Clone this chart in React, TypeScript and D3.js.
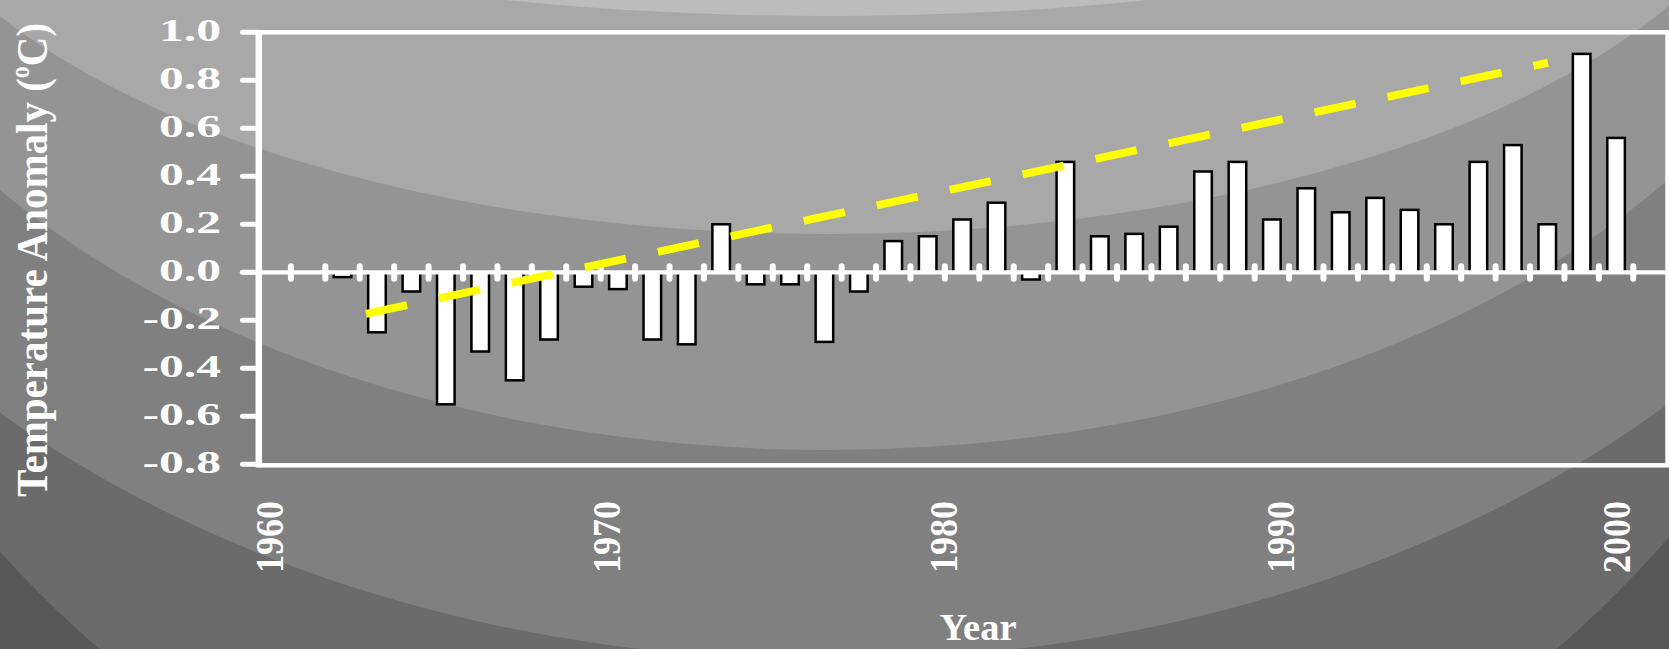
import * as d3 from 'd3';

// yearly anomaly bars (ºC)
const barYears = [
  1962, 1963, 1964, 1965, 1966, 1967, 1968, 1969, 1970, 1971, 1972, 1973, 1974,
  1975, 1976, 1977, 1978, 1979, 1980, 1981, 1982, 1983, 1984, 1985, 1986, 1987,
  1988, 1989, 1990, 1991, 1992, 1993, 1994, 1995, 1996, 1997, 1998, 1999,
];
const anomalies = [
  -0.02, -0.25, -0.08, -0.55, -0.33, -0.45, -0.28, -0.06, -0.07, -0.28, -0.3, 0.2, -0.05,
  -0.05, -0.29, -0.08, 0.13, 0.15, 0.22, 0.29, -0.03, 0.46, 0.15, 0.16, 0.19, 0.42,
  0.46, 0.22, 0.35, 0.25, 0.31, 0.26, 0.2, 0.46, 0.53, 0.2, 0.91, 0.56,
];

const yTicks = [1.0, 0.8, 0.6, 0.4, 0.2, 0.0, -0.2, -0.4, -0.6, -0.8];
const yTickLabels = ['1.0', '0.8', '0.6', '0.4', '0.2', '0.0', '-0.2', '-0.4', '-0.6', '-0.8'];
const xTickYears = [1960, 1970, 1980, 1990, 2000];

// dashed trend line end points
const trendYears = [1962.68, 1997.02];
const trendValues = [-0.173, 0.873];

const width = 1669;
const height = 649;
const plot = { left: 256.5, right: 1667.7, top: 32.3, bottom: 464.3 };
const font = '"Liberation Serif", "Times New Roman", serif';

// stepped grey backdrop (outer to inner)
const backdrop = [
  { fill: '#6b6b6b', cx: 828, cy: -195, rx: 1115, ry: 1115 },
  { fill: '#808080', cx: 828, cy: -200, rx: 1180, ry: 860 },
  { fill: '#949494', cx: 828, cy: -200, rx: 1035, ry: 650 },
  { fill: '#a8a8a8', cx: 828, cy: -200, rx: 955, ry: 434 },
  { fill: '#bcbcbc', cx: 827, cy: -200, rx: 850, ry: 216 },
];

export default function App() {
  const categories = d3.range(1960, 2001);
  const x = d3
    .scaleBand<number>()
    .domain(categories)
    .range([plot.left, plot.right])
    .paddingInner(0.49)
    .paddingOuter(0.245);
  const step = x.step();
  const xc = d3.scaleLinear().domain([1959.5, 2000.5]).range([plot.left, plot.right]);
  const labelX = d3.scaleLinear().domain([1960, 2000]).range([270, 1617]);
  const y = d3.scaleLinear().domain([-0.8, 1.0]).range([plot.bottom, plot.top]);
  const y0 = y(0);

  const trend = d3
    .line<number>()
    .x((_, i) => xc(trendYears[i]))
    .y((d) => y(d));

  const boundaries = d3.range(1, categories.length).map((k) => plot.left + k * step);

  return (
    <svg
      width={width}
      height={height}
      style={{ position: 'absolute', left: 0, top: 0, display: 'block' }}
    >
      <rect x={0} y={0} width={width} height={height} fill="#585858" />
      {backdrop.map((b, i) => (
        <ellipse key={i} cx={b.cx} cy={b.cy} rx={b.rx} ry={b.ry} fill={b.fill} />
      ))}

      {barYears.map((yr, i) => {
        const v = anomalies[i];
        return (
          <rect
            key={yr}
            x={x(yr)}
            y={Math.min(y(v), y0)}
            width={x.bandwidth()}
            height={Math.abs(y(v) - y0)}
            fill="#ffffff"
            stroke="#000000"
            strokeWidth={2.5}
          />
        );
      })}

      <rect
        x={258.5}
        y={plot.top}
        width={1667.5 - 258.5}
        height={plot.bottom - plot.top + 1}
        fill="none"
        stroke="#ffffff"
        strokeWidth={4.5}
      />
      <line x1={258.8} x2={258.8} y1={plot.top - 2} y2={plot.bottom + 3} stroke="#ffffff" strokeWidth={6.5} />

      {yTicks.map((t) => (
        <line
          key={t}
          x1={242.5}
          x2={257}
          y1={y(t)}
          y2={y(t)}
          stroke="#ffffff"
          strokeWidth={5}
          strokeLinecap="round"
        />
      ))}

      <line x1={242} x2={width + 5} y1={y0} y2={y0} stroke="#ffffff" strokeWidth={4.3} strokeLinecap="round" />
      {boundaries.map((bx, i) => (
        <line
          key={i}
          x1={bx}
          x2={bx}
          y1={y0 - 6}
          y2={y0 + 6.5}
          stroke="#ffffff"
          strokeWidth={6}
          strokeLinecap="round"
        />
      ))}

      <path
        d={trend(trendValues) ?? ''}
        fill="none"
        stroke="#ffff00"
        strokeWidth={8}
        strokeDasharray="42 32.6"
      />

      {yTickLabels.map((label, i) => (
        <text
          key={label}
          transform={`translate(221,${y(yTicks[i]) + 9}) scale(1.55,1)`}
          textAnchor="end"
          fontFamily={font}
          fontWeight="bold"
          fontSize={32}
          fill="#ffffff"
        >
          {label}
        </text>
      ))}

      {xTickYears.map((yr) => (
        <text
          key={yr}
          transform={`translate(${labelX(yr) + 13.3},501) rotate(-90) scale(1,1.1)`}
          textAnchor="end"
          fontFamily={font}
          fontWeight="bold"
          fontSize={36}
          fill="#ffffff"
        >
          {yr}
        </text>
      ))}

      <text
        x={978}
        y={640}
        textAnchor="middle"
        fontFamily={font}
        fontWeight="bold"
        fontSize={38.5}
        fill="#ffffff"
      >
        Year
      </text>

      <text
        transform="translate(47,260) rotate(-90) scale(1,1.1)"
        textAnchor="middle"
        fontFamily={font}
        fontWeight="bold"
        fontSize={41}
        fill="#ffffff"
      >
        Temperature Anomaly (
        <tspan fontSize={24} dy={-16}>
          o
        </tspan>
        <tspan dy={16}>C)</tspan>
      </text>
    </svg>
  );
}
